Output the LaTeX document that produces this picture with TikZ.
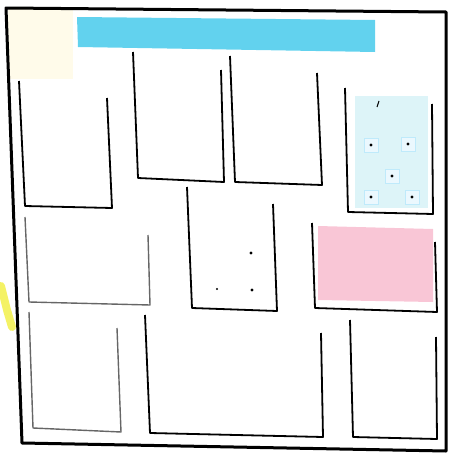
\documentclass[tikz,border=0pt]{standalone}
\usepackage{tikz}
\usepackage{xcolor}
\definecolor{bannerblue}{HTML}{62D2EE}
\definecolor{palecyan}{HTML}{DDF4F8}
\definecolor{notepink}{HTML}{F9C6D6}
\definecolor{notecream}{HTML}{FFFBEA}
\definecolor{marker}{HTML}{F2F04A}
\begin{document}
\begin{tikzpicture}[x=0.5pt,y=-0.5pt,
  frame/.style={line width=1.5pt,line join=round},
  pocket/.style={line width=0.9pt,line join=round},
  faint/.style={line width=0.7pt,black!60,line join=round},
  pin/.style={draw=cyan!25,fill=cyan!8,line width=0.3pt}]
  \useasboundingbox (0,0) rectangle (450,455);
  % sticky notes and colour patches
  \fill[notecream] (8,9) rectangle (73,79);
  \fill[bannerblue] (77,17) -- (375,20) -- (375,52) -- (78,47) -- cycle;
  \draw[marker,opacity=0.85,line width=4pt,line cap=round] (1,286) -- (7,310) -- (12,327);
  \fill[palecyan] (355,96) rectangle (428,208);
  \fill[notepink] (318,226) -- (433,229) -- (433,302) -- (318,300) -- cycle;
  % board outline
  \draw[frame] (6,8) -- (446,12) -- (446,451) -- (22,443) -- cycle;
  % top row pockets
  \draw[pocket] (19,81) -- (25,206) -- (112,208) -- (107,98);
  \draw[pocket] (133,52) -- (138,178) -- (224,182) -- (221,70);
  \draw[pocket] (230,56) -- (235,182) -- (322,185) -- (317,73);
  \draw[pocket] (345,88) -- (348,212) -- (433,214) -- (432,104);
  % middle row
  \draw[faint] (25,217) -- (29,302) -- (150,305) -- (148,235);
  \draw[pocket] (187,187) -- (192,308) -- (277,311) -- (273,204);
  \draw[pocket] (312,223) -- (315,308) -- (437,312) -- (435,242);
  % bottom row
  \draw[faint] (29,312) -- (33,428) -- (121,432) -- (117,328);
  \draw[pocket] (145,315) -- (150,433) -- (323,437) -- (321,333);
  \draw[pocket] (350,320) -- (353,437) -- (437,439) -- (436,337);
  % pinned cards in the cyan pocket
  \foreach \px/\py in {371/145,408/144,392/176,371/197,412/197}{
    \draw[pin] (\px-7,\py-7) rectangle (\px+7,\py+7);
    \fill (\px,\py) circle (1.6);
  }
  \draw[line width=0.5pt] (377,107) -- (379,101);
  % pins in the middle pocket
  \fill (251,253) circle (1.6); \fill (252,290) circle (1.6); \fill (217,289) circle (1.1);
\end{tikzpicture}
\end{document}
